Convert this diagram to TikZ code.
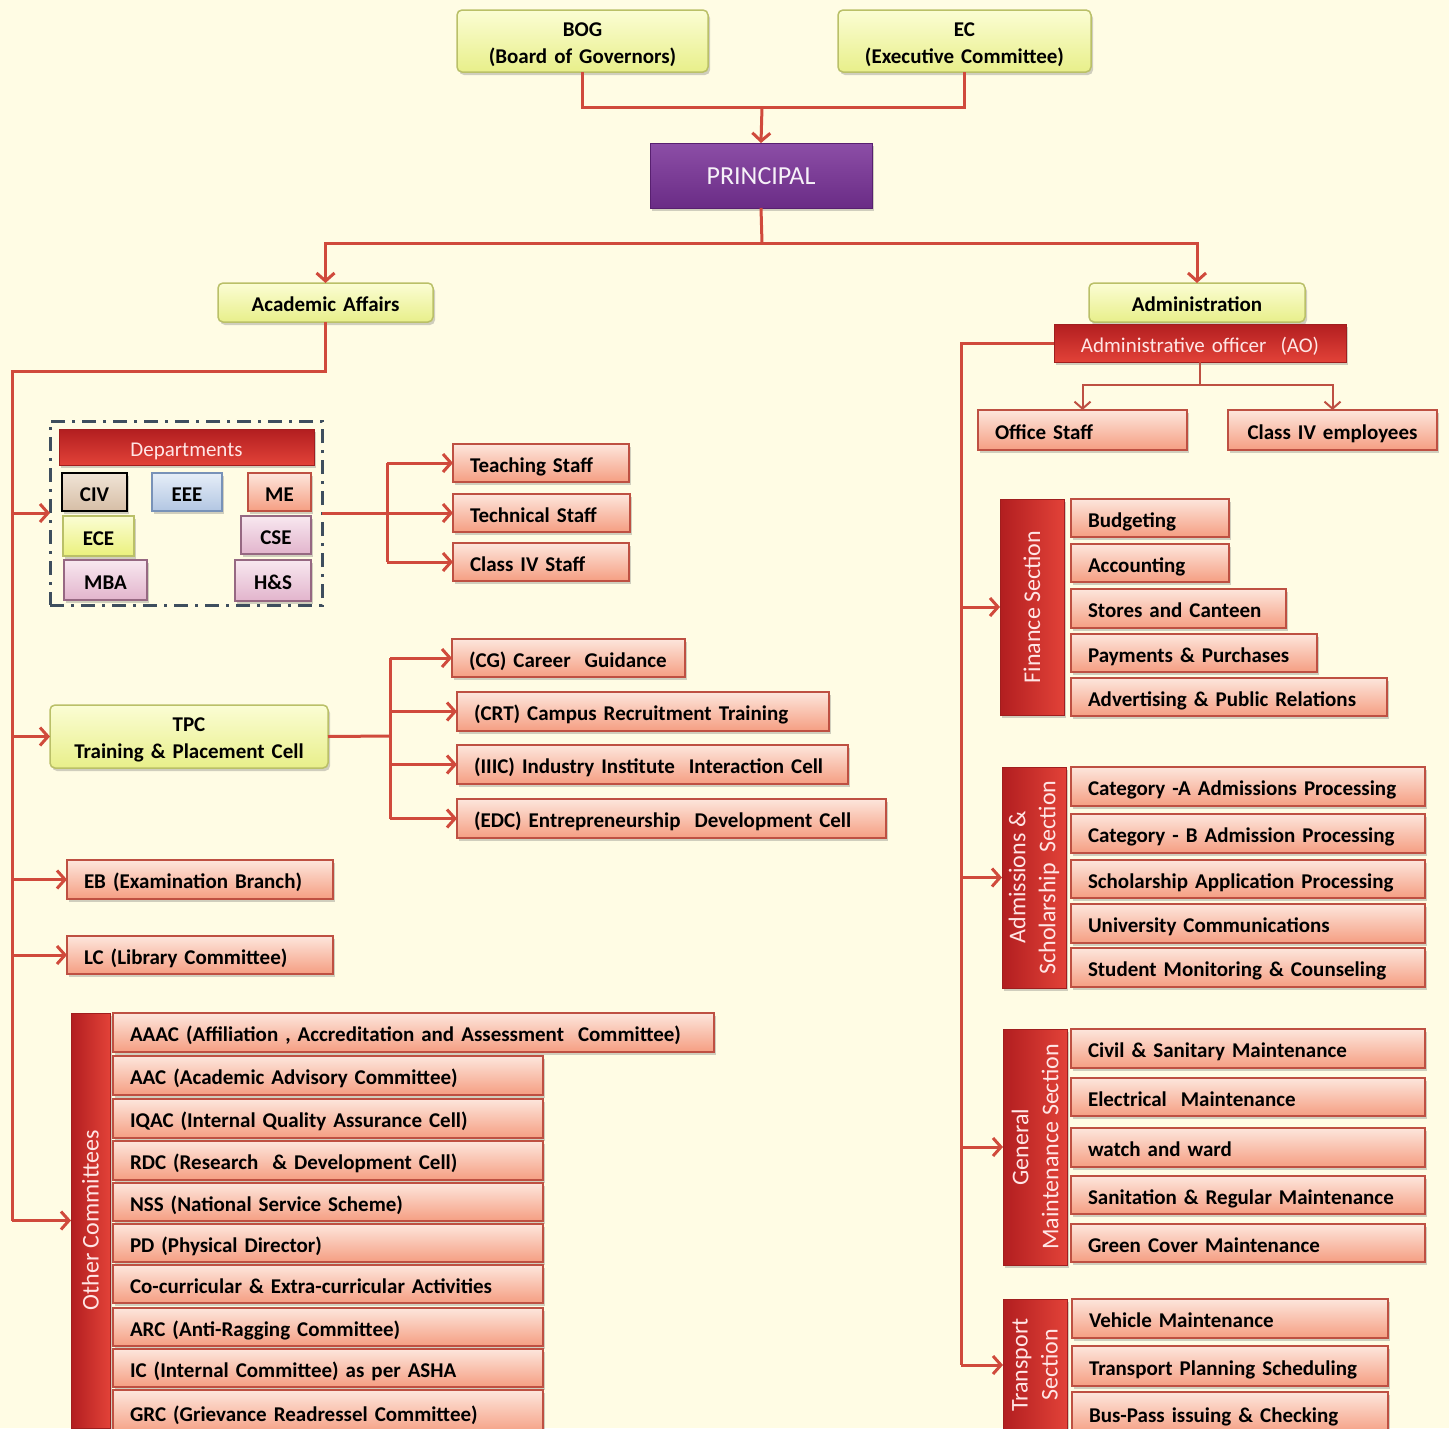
\documentclass[tikz,border=0pt]{standalone}
\usepackage{fontspec}
\setmainfont{Carlito}
\usetikzlibrary{arrows.meta,shadows}
\definecolor{bg}{RGB}{255,252,228}
\definecolor{conC}{RGB}{208,74,60}
\definecolor{itmT}{RGB}{253,230,220}
\definecolor{itmB}{RGB}{245,158,130}
\definecolor{itmD}{RGB}{190,80,66}
\definecolor{yelT}{RGB}{251,253,212}
\definecolor{yelB}{RGB}{232,239,138}
\definecolor{yelD}{RGB}{186,192,104}
\definecolor{redT}{RGB}{178,30,32}
\definecolor{redB}{RGB}{226,66,56}
\definecolor{redD}{RGB}{160,30,30}
\definecolor{purT}{RGB}{140,78,166}
\definecolor{purB}{RGB}{106,44,134}
\definecolor{purD}{RGB}{88,32,112}
\definecolor{civT}{RGB}{240,228,214}
\definecolor{civB}{RGB}{214,190,166}
\definecolor{eeeT}{RGB}{230,238,248}
\definecolor{eeeB}{RGB}{178,198,226}
\definecolor{eeeD}{RGB}{120,146,184}
\definecolor{pnkT}{RGB}{248,232,240}
\definecolor{pnkB}{RGB}{226,180,204}
\definecolor{pnkD}{RGB}{150,104,130}
\definecolor{dashC}{RGB}{62,78,94}
\tikzset{
  base/.style={rectangle, outer sep=0pt, inner ysep=0pt, inner xsep=17pt,
    text height=18pt, text depth=0pt,
    font=\bfseries\fontsize{21}{27}\selectfont, text=black,
    drop shadow={shadow xshift=2pt,shadow yshift=-3pt,opacity=0.3,fill=black!60}},
  itm/.style={base, top color=itmT, bottom color=itmB, draw=itmD, line width=1.3pt, align=left},
  itmc/.style={itm, align=center},
  yel/.style={base, rounded corners=5pt, top color=yelT, bottom color=yelB, draw=yelD, line width=1.5pt, align=center},
  twoline/.style={text height=20pt, text depth=30pt},
  redb/.style={base, top color=redT, bottom color=redB, draw=redD, line width=1pt, text=white!90!red,
    font=\fontsize{21}{26}\selectfont, align=center},
  redv/.style={base, left color=redT, right color=redB, draw=redD, line width=1pt},
  vtext/.style={rotate=90, text=white!90!red, font=\fontsize{24}{30}\selectfont, align=center, inner sep=0pt},
  purp/.style={base, top color=purT, bottom color=purB, draw=purD, line width=1pt, text=white!92!purT,
    font=\fontsize{26}{30}\selectfont, align=center},
  civ/.style={base, inner xsep=4pt, top color=civT, bottom color=civB, draw=black, line width=2pt, align=center},
  eee/.style={base, inner xsep=4pt, top color=eeeT, bottom color=eeeB, draw=eeeD, line width=1.3pt, align=center},
  mee/.style={base, inner xsep=4pt, top color=itmT, bottom color=itmB, draw=itmD, line width=1.3pt, align=center},
  ece/.style={base, inner xsep=4pt, top color=yelT, bottom color=yelB!90!yellow, draw=yelD, line width=1.3pt, align=center},
  pnk/.style={base, inner xsep=4pt, top color=pnkT, bottom color=pnkB, draw=pnkD, line width=1.3pt, align=center},
  dashbox/.style={rectangle, draw=dashC, line width=3pt, dash pattern=on 14pt off 7pt on 3pt off 7pt, outer sep=0pt},
  conn/.style={draw=conC, line width=3pt, line join=miter},
  arr/.style={conn, -{Straight Barb[length=8pt,width=18pt]}},
  conn2/.style={draw=itmD, line width=2pt},
  arr2/.style={conn2, -{Straight Barb[length=7pt,width=16pt]}},
}
\newcommand\bx[7]{\node[#1,anchor=north west,minimum width=#5pt,minimum height=#6pt,text width=\the\numexpr#5-34\relax pt] (#2) at (#3,#4) {#7};}
\newcommand\sbx[7]{\node[#1,anchor=north west,minimum width=#5pt,minimum height=#6pt,text width=\the\numexpr#5-8\relax pt] (#2) at (#3,#4) {#7};}
\begin{document}
\begin{tikzpicture}[x=1pt,y=-1pt]
\useasboundingbox (0,0) rectangle (1449,1428);
\fill[bg] (0,0) rectangle (1449,1428);
\clip (0,0) rectangle (1449,1428);

% top
\bx{yel,twoline}{bog}{457}{10}{251}{62}{BOG\\(Board of Governors)}
\bx{yel,twoline}{ec}{838}{10}{253}{62}{EC\\(Executive Committee)}
\bx{purp}{prin}{650}{143}{222}{65}{PRINCIPAL}
\bx{yel}{aa}{218}{283}{215}{39}{Academic Affairs}
\bx{yel}{adm}{1089}{283}{216}{39}{Administration}
\bx{redb}{ao}{1054}{324}{292}{38}{Administrative officer~~(AO)}

\coordinate (j1) at (762,107);
\draw[conn] (bog.south) |- (j1) -| (ec.south);
\draw[arr] (j1) -- (prin.north);
\coordinate (j2) at (762,243);
\draw[conn] (prin.south) -- (j2);
\draw[arr] (j2) -| (aa.north);
\draw[arr] (j2) -| (adm.north);

% departments
\node[dashbox, anchor=north west, minimum width=272pt, minimum height=184pt] (depbox) at (50,421) {};
\bx{redb}{dephd}{59}{429}{255}{36}{Departments}
\sbx{civ}{civ}{62}{473}{65}{38}{CIV}
\sbx{eee}{eee}{152}{473}{70}{38}{EEE}
\sbx{mee}{me}{248}{473}{63}{38}{ME}
\sbx{ece}{ece}{63}{516}{71}{40}{ECE}
\sbx{pnk}{cse}{241}{516}{70}{38}{CSE}
\sbx{pnk}{mba}{64}{560}{83}{40}{MBA}
\sbx{pnk}{hs}{235}{560}{76}{41}{H\&S}

\bx{itm}{ts}{453}{444}{176}{38}{Teaching Staff}
\bx{itm}{tcs}{453}{494}{177}{38}{Technical Staff}
\bx{itm}{c4s}{453}{543}{176}{38}{Class IV Staff}

% TPC
\bx{yel,twoline}{tpc}{50}{705}{278}{63}{TPC\\Training \& Placement Cell}
\bx{itm}{cg}{452}{639}{233}{38}{(CG) Career~ Guidance}
\bx{itm}{crt}{457}{692}{372}{39}{(CRT) Campus Recruitment Training}
\bx{itm}{iiic}{457}{745}{391}{39}{(IIIC) Industry Institute~ Interaction Cell}
\bx{itm}{edc}{457}{799}{429}{39}{(EDC) Entrepreneurship~ Development Cell}

\bx{itm}{eb}{67}{860}{266}{39}{EB (Examination Branch)}
\bx{itm}{lc}{67}{936}{266}{38}{LC (Library Committee)}

% other committees
\node[redv, anchor=north west, minimum width=39pt, minimum height=415pt] (oc) at (71,1013) {};
\node[vtext] (octx) at (oc.center) {Other Committees};
\bx{itm}{c1}{113}{1013}{601}{39}{AAAC (Affiliation , Accreditation and Assessment~ Committee)}
\bx{itm}{c2}{113}{1056}{430}{39}{AAC (Academic Advisory Committee)}
\bx{itm}{c3}{113}{1099}{430}{39}{IQAC (Internal Quality Assurance Cell)}
\bx{itm}{c4}{113}{1141}{430}{39}{RDC (Research~ \& Development Cell)}
\bx{itm}{c5}{113}{1183}{430}{38}{NSS (National Service Scheme)}
\bx{itm}{c6}{113}{1224}{430}{38}{PD (Physical Director)}
\bx{itm}{c7}{113}{1265}{430}{38}{Co-curricular \& Extra-curricular Activities}
\bx{itm}{c8}{113}{1308}{430}{38}{ARC (Anti-Ragging Committee)}
\bx{itm}{c9}{113}{1349}{430}{38}{IC (Internal Committee) as per ASHA}
\bx{itm}{c10}{113}{1390}{430}{44}{GRC (Grievance Readressel Committee)}

% left spine
\coordinate (ls) at (12,371);
\draw[conn] (aa.south) |- (ls) -- (ls |- oc.west);
\draw[arr] (ls |- depbox.west) -- (depbox.west);
\draw[arr] (ls |- tpc.west) -- (tpc.west);
\draw[arr] (ls |- eb.west) -- (eb.west);
\draw[arr] (ls |- lc.west) -- (lc.west);
\draw[arr] (ls |- oc.west) -- (oc.west);

\coordinate (dj) at (387,513);
\draw[conn] (depbox.east) -- (dj);
\draw[conn] (dj |- ts.west) -- (dj |- c4s.west);
\draw[arr] (dj |- ts.west) -- (ts.west);
\draw[arr] (dj |- tcs.west) -- (tcs.west);
\draw[arr] (dj |- c4s.west) -- (c4s.west);

\coordinate (tj) at (390,736);
\draw[conn] (tpc.east) -- (tj);
\draw[conn] (tj |- cg.west) -- (tj |- edc.west);
\draw[arr] (tj |- cg.west) -- (cg.west);
\draw[arr] (tj |- crt.west) -- (crt.west);
\draw[arr] (tj |- iiic.west) -- (iiic.west);
\draw[arr] (tj |- edc.west) -- (edc.west);

% administration
\bx{itm}{os}{978}{410}{209}{40}{Office Staff}
\bx{itmc}{c4e}{1228}{410}{209}{40}{Class IV employees}
\path (ao.south) ++(0,23) coordinate (aj);
\draw[conn2] (ao.south) -- (aj);
\draw[arr2] (aj) -| (os.north);
\draw[arr2] (aj) -| (c4e.north);

% finance
\node[redv, anchor=north west, minimum width=64pt, minimum height=216pt] (fin) at (1000,499) {};
\node[vtext] (fintx) at (fin.center) {Finance Section};
\bx{itm}{f1}{1071}{499}{158}{38}{Budgeting}
\bx{itm}{f2}{1071}{544}{158}{38}{Accounting}
\bx{itm}{f3}{1071}{589}{215}{39}{Stores and Canteen}
\bx{itm}{f4}{1071}{634}{246}{38}{Payments \& Purchases}
\bx{itm}{f5}{1071}{678}{316}{38}{Advertising \& Public Relations}

% admissions
\node[redv, anchor=north west, minimum width=64pt, minimum height=221pt] (ads) at (1002,767) {};
\node[vtext] (adstx) at (ads.center) {Admissions \&\\Scholarship~ Section};
\bx{itm}{a1}{1071}{767}{354}{39}{Category -A Admissions Processing}
\bx{itm}{a2}{1071}{814}{354}{39}{Category - B Admission Processing}
\bx{itm}{a3}{1071}{860}{354}{38}{Scholarship Application Processing}
\bx{itm}{a4}{1071}{904}{354}{39}{University Communications}
\bx{itm}{a5}{1071}{948}{354}{39}{Student Monitoring \& Counseling}

% general maintenance
\node[redv, anchor=north west, minimum width=64pt, minimum height=236pt] (gm) at (1003,1029) {};
\node[vtext] (gmtx) at (gm.center) {General\\Maintenance Section};
\bx{itm}{g1}{1071}{1029}{354}{39}{Civil \& Sanitary Maintenance}
\bx{itm}{g2}{1071}{1078}{354}{38}{Electrical~ Maintenance}
\bx{itm}{g3}{1071}{1128}{354}{39}{watch and ward}
\bx{itm}{g4}{1071}{1176}{354}{38}{Sanitation \& Regular Maintenance}
\bx{itm}{g5}{1071}{1224}{354}{38}{Green Cover Maintenance}

% transport
\node[redv, anchor=north west, minimum width=64pt, minimum height=132pt] (tr) at (1003,1299) {};
\node[vtext] (trtx) at (tr.center) {Transport\\Section};
\bx{itm}{t1}{1072}{1299}{316}{39}{Vehicle Maintenance}
\bx{itm}{t2}{1072}{1346}{316}{40}{Transport Planning Scheduling}
\bx{itm}{t3}{1072}{1392}{316}{42}{Bus-Pass issuing \& Checking}

% right spine
\coordinate (rs) at (961,343);
\draw[conn] (ao.west) -- (rs) -- (rs |- tr.west);
\draw[arr] (rs |- fin.west) -- (fin.west);
\draw[arr] (rs |- ads.west) -- (ads.west);
\draw[arr] (rs |- gm.west) -- (gm.west);
\draw[arr] (rs |- tr.west) -- (tr.west);
\end{tikzpicture}
\end{document}
